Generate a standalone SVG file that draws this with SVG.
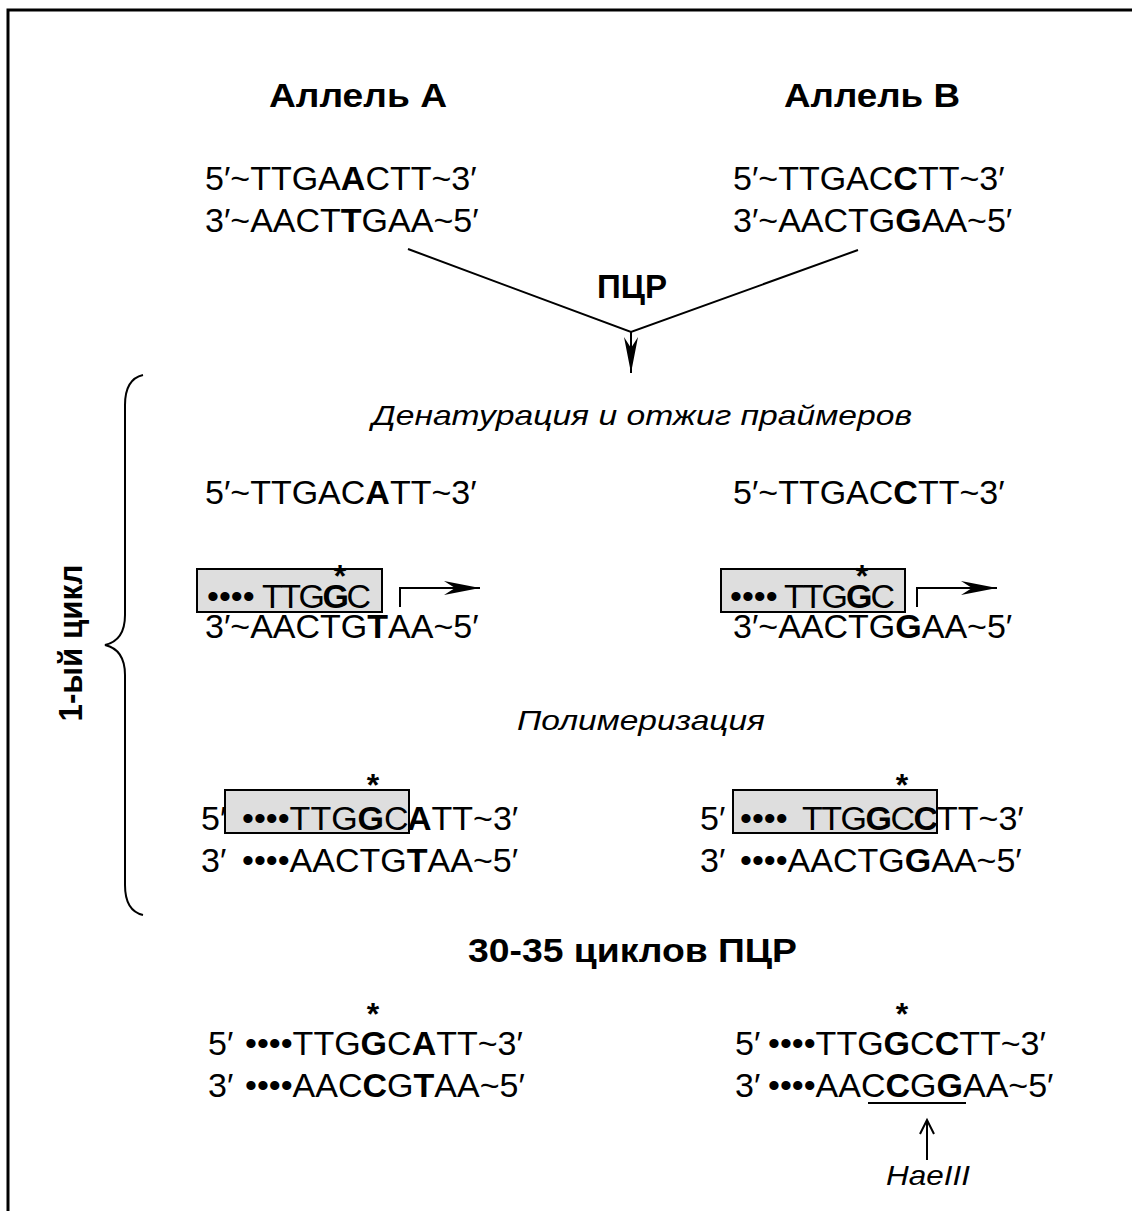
<svg xmlns="http://www.w3.org/2000/svg" width="1132" height="1211" viewBox="0 0 1132 1211">
  <style>
    .seq { font-family: "Liberation Sans", Arial, sans-serif; font-size: 34px; fill: #000; }
    .b { font-weight: bold; }
    .title { font-family: "Liberation Sans", Arial, sans-serif; font-size: 34px; font-weight: bold; fill: #000; }
    .step { font-family: "Liberation Sans", Arial, sans-serif; font-size: 28px; font-style: italic; fill: #000; }
    .star { font-family: "Liberation Sans", Arial, sans-serif; font-size: 32px; font-weight: bold; text-anchor: middle; fill: #000; }
    .box { fill: #dedede; stroke: #000; stroke-width: 2; }
    .line { fill: none; stroke: #000; stroke-width: 2; }
  </style>
  <defs>
    <marker id="head" markerUnits="userSpaceOnUse" markerWidth="38" markerHeight="16" refX="36" refY="8" orient="auto">
      <path d="M0,1 L36,8 L0,15 L11,8 Z" fill="#000"/>
    </marker>
  </defs>

  <rect width="1132" height="1211" fill="#fff"/>
  <!-- outer frame (left and top edges) -->
  <path d="M8,1211 V10 H1132" fill="none" stroke="#000" stroke-width="3"/>

  <!-- allele A -->
  <g id="allele-a">
    <text class="title" x="358" y="107" text-anchor="middle" textLength="178" lengthAdjust="spacingAndGlyphs">Аллель А</text>
    <text class="seq" x="205" y="190">5′~TTGA<tspan class="b">A</tspan>CTT~3′</text>
    <text class="seq" x="205" y="232">3′~AACT<tspan class="b">T</tspan>GAA~5′</text>
  </g>

  <!-- allele B -->
  <g id="allele-b">
    <text class="title" x="872" y="107" text-anchor="middle" textLength="176" lengthAdjust="spacingAndGlyphs">Аллель В</text>
    <text class="seq" x="733" y="190">5′~TTGAC<tspan class="b">C</tspan>TT~3′</text>
    <text class="seq" x="733" y="232">3′~AACTG<tspan class="b">G</tspan>AA~5′</text>
  </g>

  <g id="pcr-label">
    <text class="title" x="632" y="298" text-anchor="middle" font-size="32" textLength="70" lengthAdjust="spacingAndGlyphs">ПЦР</text>
  </g>

  <g id="step-annealing">
    <text class="step" x="372" y="425" textLength="540" lengthAdjust="spacingAndGlyphs">Денатурация и отжиг праймеров</text>
  </g>

  <!-- annealing, allele A template -->
  <g id="anneal-a">
    <text class="seq" x="205" y="504">5′~TTGAC<tspan class="b">A</tspan>TT~3′</text>
    <rect class="box" x="197" y="569" width="185" height="43"/>
    <text class="seq" y="608"><tspan x="207">••••</tspan><tspan x="262" letter-spacing="-2.5">TTG<tspan class="b">G</tspan>C</tspan></text>
    <text class="star" x="340" y="587">*</text>
    <text class="seq" x="205" y="638">3′~AACTG<tspan class="b">T</tspan>AA~5′</text>
  </g>

  <!-- annealing, allele B template -->
  <g id="anneal-b">
    <text class="seq" x="733" y="504">5′~TTGAC<tspan class="b">C</tspan>TT~3′</text>
    <rect class="box" x="721" y="569" width="184" height="43"/>
    <text class="seq" y="608"><tspan x="730">••••</tspan><tspan x="784" letter-spacing="-2">TTG<tspan class="b">G</tspan>C</tspan></text>
    <text class="star" x="862" y="587">*</text>
    <text class="seq" x="733" y="638">3′~AACTG<tspan class="b">G</tspan>AA~5′</text>
  </g>

  <g id="step-polymerization">
    <text class="step" x="517" y="730" textLength="248" lengthAdjust="spacingAndGlyphs">Полимеризация</text>
  </g>

  <!-- polymerization, allele A -->
  <g id="poly-a">
    <rect class="box" x="225" y="790" width="184" height="43"/>
    <text class="star" x="373" y="796">*</text>
    <text class="seq" y="830"><tspan x="201">5′</tspan><tspan x="242">••••TTG<tspan class="b">G</tspan>C</tspan><tspan x="407" class="b">A</tspan>TT~3′</text>
    <text class="seq" y="872"><tspan x="201">3′</tspan><tspan x="242">••••AACTG<tspan class="b">T</tspan>AA~5′</tspan></text>
  </g>

  <!-- polymerization, allele B -->
  <g id="poly-b">
    <rect class="box" x="733" y="790" width="204" height="43"/>
    <text class="star" x="902" y="796">*</text>
    <text class="seq" y="830"><tspan x="700">5′</tspan><tspan x="740">••••</tspan><tspan x="802" letter-spacing="-1.5">TTG<tspan class="b">G</tspan>C<tspan class="b">C</tspan></tspan><tspan x="937">TT~3′</tspan></text>
    <text class="seq" y="872"><tspan x="700">3′</tspan><tspan x="740">••••AACTG<tspan class="b">G</tspan>AA~5′</tspan></text>
  </g>

  <!-- cycle brace label -->
  <g id="cycle-label">
    <text class="title" font-size="30" transform="translate(82,643) rotate(-90)" text-anchor="middle" textLength="157" lengthAdjust="spacingAndGlyphs">1-ый цикл</text>
  </g>

  <g id="cycles-label">
    <text class="title" x="468" y="962" font-size="30" textLength="329" lengthAdjust="spacingAndGlyphs">30-35 циклов ПЦР</text>
  </g>

  <!-- product after cycling, allele A -->
  <g id="product-a">
    <text class="star" x="373" y="1025">*</text>
    <text class="seq" y="1055"><tspan x="208">5′</tspan><tspan x="245">••••TTG<tspan class="b">G</tspan>C<tspan class="b">A</tspan>TT~3′</tspan></text>
    <text class="seq" y="1097"><tspan x="208">3′</tspan><tspan x="245">••••AAC<tspan class="b">C</tspan>G<tspan class="b">T</tspan>AA~5′</tspan></text>
  </g>

  <!-- product after cycling, allele B -->
  <g id="product-b">
    <text class="star" x="902" y="1025">*</text>
    <text class="seq" y="1055"><tspan x="735">5′</tspan><tspan x="768">••••TTG<tspan class="b">G</tspan>C<tspan class="b">C</tspan>TT~3′</tspan></text>
    <text class="seq" y="1097"><tspan x="735">3′</tspan><tspan x="768">••••AAC<tspan class="b">C</tspan>G<tspan class="b">G</tspan>AA~5′</tspan></text>
    <line class="line" x1="868" y1="1103" x2="966" y2="1103"/>
  </g>

  <g id="haeiii">
    <text class="step" x="886" y="1185" textLength="84" lengthAdjust="spacingAndGlyphs">HaeIII</text>
  </g>

  <!-- connectors -->
  <g id="connectors">
    <path class="line" d="M408,249 L631,332 L858,250"/>
    <line class="line" x1="631" y1="332" x2="631" y2="373" marker-end="url(#head)"/>
    <path class="line" d="M400,607 V588 H480" marker-end="url(#head)"/>
    <path class="line" d="M917,607 V588 H997" marker-end="url(#head)"/>
    <line class="line" x1="927" y1="1160" x2="927" y2="1121"/>
    <path class="line" d="M920,1134 L927,1120 L934,1134"/>
    <path class="line" d="M143,375 C130,378 125,390 125,405 L125,615 C125,632 118,642 105,645 C118,648 125,658 125,675 L125,885 C125,900 130,912 143,915"/>
  </g>
</svg>
